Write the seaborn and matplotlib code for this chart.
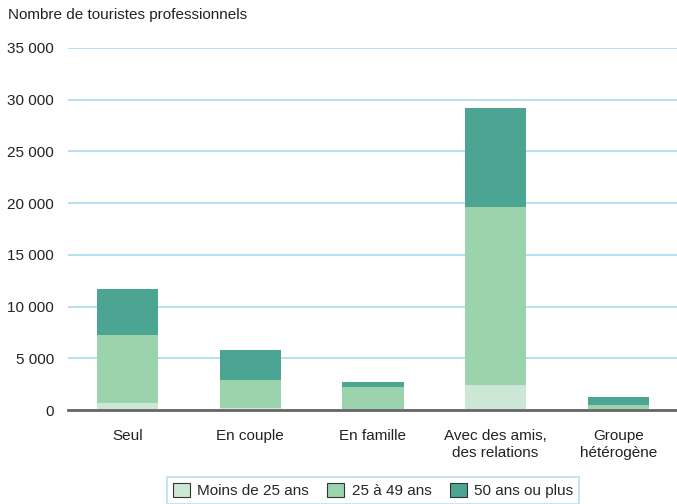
import matplotlib
matplotlib.use("Agg")
import matplotlib.pyplot as plt
import seaborn as sns
import numpy as np
from matplotlib.patches import Patch
from matplotlib.ticker import FuncFormatter

sns.set_style("white")
plt.rcParams['font.family'] = ['Liberation Sans', 'DejaVu Sans']
plt.rcParams['font.size'] = 11

categories = ['Seul', 'En couple', 'En famille', 'Avec des amis,\ndes relations', 'Groupe\nhétérogène']
moins_25 = [680, 200, 100, 2400, 50]
de_25_49 = [6570, 2700, 2120, 17200, 450]
plus_50 = [4450, 2900, 480, 9600, 760]
series_names = ['Moins de 25 ans', '25 à 49 ans', '50 ans ou plus']
colors = ['#cde7d6', '#9bd3ac', '#4ba592']

fig = plt.figure(figsize=(6.77, 5.04), dpi=100)
ax = fig.add_axes([0.100, 0.1865, 0.900, 0.7185])

bottom = np.zeros(len(categories))
for vals, col in zip([moins_25, de_25_49, plus_50], colors):
    sns.barplot(x=categories, y=vals, bottom=bottom, color=col, width=0.5,
                saturation=1, ax=ax, linewidth=0, zorder=3)
    bottom = bottom + np.array(vals)

ax.set_ylim(0, 35000)
ax.set_xlim(-0.49, 4.48)
ax.set_yticks(np.arange(0, 35001, 5000))
ax.yaxis.set_major_formatter(FuncFormatter(lambda v, p: f"{int(v):,}".replace(',', ' ')))
ax.grid(axis='y', color='#a9d9f0', linewidth=1.2, zorder=0)
for s in ['top', 'right', 'left']:
    ax.spines[s].set_visible(False)
ax.spines['bottom'].set_color('#666666')
ax.spines['bottom'].set_linewidth(2)
ax.spines['bottom'].set_zorder(4)
ax.tick_params(axis='both', length=0, labelsize=11, colors='#222222')
ax.tick_params(axis='x', pad=14)
ax.tick_params(axis='y', pad=10)
ax.set_xlabel('')
ax.set_ylabel('')

fig.text(0.012, 0.963, 'Nombre de touristes professionnels', fontsize=11, color='#222222')

handles = [Patch(facecolor=c, edgecolor='#333333', linewidth=0.8) for c in colors]
leg = fig.legend(handles, series_names, loc='center', bbox_to_anchor=(0.551, 0.027),
                 ncol=3, frameon=True, fancybox=False, fontsize=11,
                 handlelength=1.1, handleheight=1.1, handletextpad=0.5,
                 columnspacing=1.2, borderpad=0.35)
leg.get_frame().set_edgecolor('#a9d9f0')
leg.get_frame().set_linewidth(1.2)

fig.savefig('out.png', dpi=100)
